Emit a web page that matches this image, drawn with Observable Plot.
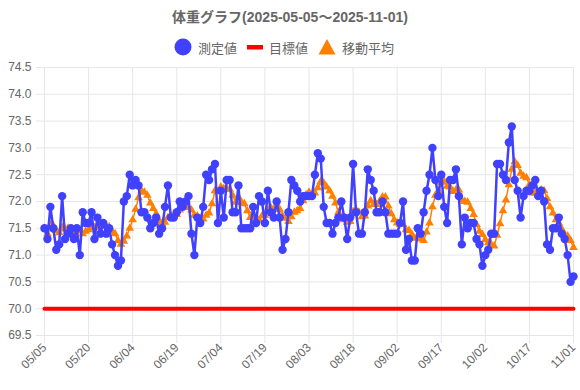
<!DOCTYPE html>
<html><head><meta charset="utf-8">
<script src="https://cdn.jsdelivr.net/npm/d3@7"></script>
<script src="https://cdn.jsdelivr.net/npm/@observablehq/plot@0.6"></script>
<style>
body{margin:0;background:#fff;font-family:"Liberation Sans","Noto Sans CJK JP",sans-serif;}
#wrap{width:580px;height:390px;position:relative;overflow:hidden;background:#fff}
#title{height:34px;line-height:34px;text-align:center;font-weight:bold;font-size:14px;color:#666;}
#legend{height:26px;display:flex;justify-content:center;align-items:center;font-size:13px;color:#666;padding-right:12px;}
.item{display:flex;align-items:center;margin:0 5px}
.item svg{margin-right:6px;display:block}
#chart svg{display:block}
</style></head><body>
<div id="wrap"><div id="title"></div><div id="legend"></div><div id="chart"></div></div>
<script>
const titleText = "体重グラフ(2025-05-05〜2025-11-01)";
const seriesNames = ["測定値", "目標値", "移動平均"];
const seriesColors = ["#4040ff", "#ff0000", "#ff8000"];
const startDate = "2025-05-05";
const endDate = "2025-11-01";
const tickLabels = ["05/05","05/20","06/04","06/19","07/04","07/19","08/03","08/18","09/02","09/17","10/02","10/17","11/01"];
const yTicks = [69.5, 70.0, 70.5, 71.0, 71.5, 72.0, 72.5, 73.0, 73.5, 74.0, 74.5];
const target = 70.0;
const maWindow = 7;
const weights = [
  71.5, 71.3, 71.9, 71.5, 71.1, 71.2, 72.1, 71.3, 71.4, 71.5,
  71.3, 71.5, 71.0, 71.8, 71.6, 71.6, 71.8, 71.3, 71.7, 71.4,
  71.6, 71.4, 71.5, 71.2, 71.0, 70.8, 70.9, 72.0, 72.1, 72.5,
  72.3, 72.4, 72.3, 71.8, 71.8, 71.7, 71.5, 71.6, 71.7, 71.4,
  71.5, 71.9, 72.3, 71.7, 71.7, 71.8, 72.0, 71.9, 72.0, 72.1,
  71.4, 71.0, 71.7, 71.6, 71.9, 72.5, 72.4, 72.6, 72.7, 71.6,
  72.2, 71.7, 72.4, 72.4, 71.8, 71.8, 72.3, 71.5, 71.5, 71.5,
  71.5, 71.9, 71.6, 72.1, 72.0, 71.6, 72.2, 71.8, 71.7, 72.0,
  71.7, 71.1, 71.3, 71.8, 72.4, 72.3, 72.2, 72.0, 72.1, 72.1,
  72.1, 72.1, 72.5, 72.9, 72.8, 71.9, 71.6, 71.6, 71.4, 71.6,
  71.7, 72.0, 71.7, 71.3, 71.7, 72.7, 71.8, 71.4, 71.4, 71.8,
  72.6, 72.4, 72.2, 71.8, 71.8, 72.0, 71.8, 71.4, 71.4, 71.4,
  71.4, 71.6, 72.0, 71.1, 71.3, 70.9, 70.9, 71.5, 71.4, 71.8,
  72.2, 72.5, 73.0, 72.4, 72.1, 72.5, 71.9, 71.6, 72.4, 72.4,
  72.6, 72.1, 71.2, 71.7, 71.5, 71.6, 71.6, 71.3, 71.2, 70.8,
  71.0, 71.1, 71.4, 71.4, 72.7, 72.7, 72.5, 72.4, 73.1, 73.4,
  72.4, 72.2, 71.7, 72.1, 72.2, 72.2, 72.3, 72.4, 72.1, 72.2,
  72.0, 71.2, 71.1, 71.5, 71.5, 71.7, 71.4, 71.3, 71.0, 70.5, 70.6
];

document.getElementById("title").textContent = titleText;

// legend
const swatches = [
  `<svg width="18" height="18"><circle cx="9" cy="9" r="8.5" fill="${seriesColors[0]}"/></svg>`,
  `<svg width="16" height="18"><rect x="0" y="7" width="16" height="4.5" fill="${seriesColors[1]}"/></svg>`,
  `<svg width="18" height="18"><path d="M9,1 L17.5,16.5 L0.5,16.5 Z" fill="${seriesColors[2]}"/></svg>`
];
document.getElementById("legend").innerHTML = seriesNames.map((n, i) =>
  `<div class="item">${swatches[i]}<span>${n}</span></div>`).join("");

const dates = d3.utcDay.range(new Date(startDate), d3.utcDay.offset(new Date(endDate), 1));
const data = dates.map((d, i) => ({date: d, w: weights[i], t: target}));
const tickDates = tickLabels.map(s => new Date(`2025-${s.replace("/", "-")}`));
const labelOf = new Map(tickDates.map((d, i) => [+d, tickLabels[i]]));
const gridColor = "#e6e6e6";
const font = '"Liberation Sans","Noto Sans CJK JP",sans-serif';

const chart = Plot.plot({
  width: 580,
  height: 330,
  marginTop: 7,
  marginBottom: 55,
  marginLeft: 44,
  marginRight: 7,
  style: {fontFamily: font, fontSize: "12px", color: "#666", background: "#fff", overflow: "visible"},
  x: {type: "utc", domain: [dates[0], dates[dates.length - 1]]},
  y: {domain: [yTicks[0], yTicks[yTicks.length - 1]]},
  marks: [
    Plot.gridX(tickDates, {stroke: gridColor, strokeOpacity: 1}),
    Plot.gridY(yTicks, {stroke: gridColor, strokeOpacity: 1}),
    Plot.axisX(tickDates, {tickFormat: d => labelOf.get(+d), tickSize: 8, tickPadding: 2, tickRotate: -45,
      stroke: gridColor, fill: "#666", fontSize: 12, label: null}),
    Plot.axisY(yTicks, {tickFormat: d3.format(".1f"), tickSize: 8, tickPadding: 5,
      stroke: gridColor, fill: "#666", fontSize: 12, label: null}),
    Plot.line(data, {x: "date", y: "t", stroke: seriesColors[1], strokeWidth: 4}),
    Plot.line(data, Plot.windowY({k: maWindow, anchor: "end", reduce: "mean"},
      {x: "date", y: "w", stroke: seriesColors[2], strokeWidth: 1.5})),
    Plot.dot(data, Plot.windowY({k: maWindow, anchor: "end", reduce: "mean"},
      {x: "date", y: "w", symbol: "triangle", fill: seriesColors[2], r: 3.2})),
    Plot.line(data, {x: "date", y: "w", stroke: seriesColors[0], strokeWidth: 2.5}),
    Plot.dot(data, {x: "date", y: "w", fill: seriesColors[0], r: 4.2})
  ]
});
document.getElementById("chart").appendChild(chart);
</script>
</body></html>
